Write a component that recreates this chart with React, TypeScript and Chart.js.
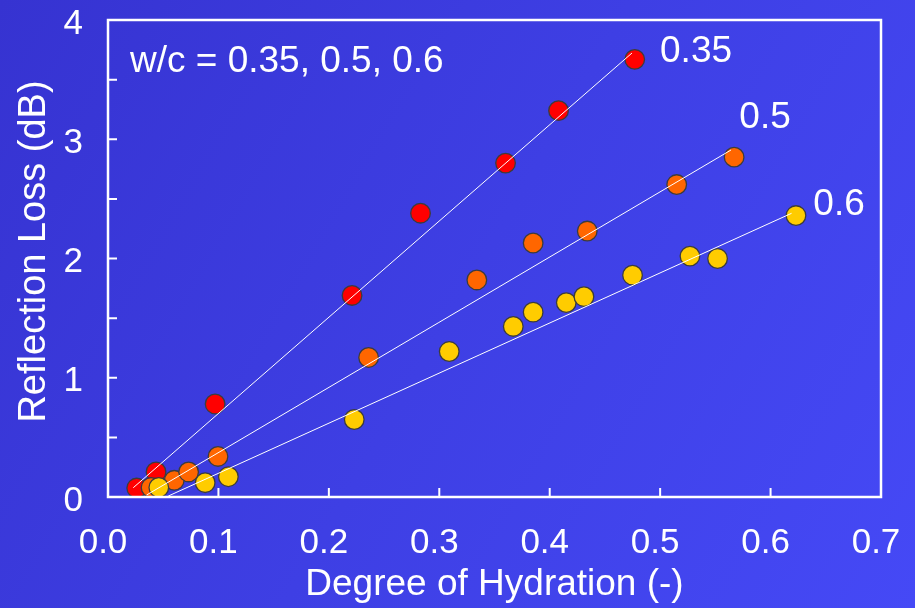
import { useEffect, useRef } from "react";
import { Chart, registerables } from "chart.js";

Chart.register(...registerables);

// ---- data ----
const hydration035 = [0.026, 0.0435, 0.097, 0.221, 0.283, 0.36, 0.408, 0.477];
const loss035 = [0.075, 0.21, 0.78, 1.69, 2.38, 2.8, 3.24, 3.67];

const hydration05 = [0.039, 0.06, 0.073, 0.0996, 0.236, 0.334, 0.385, 0.434, 0.515, 0.567];
const loss05 = [0.08, 0.14, 0.21, 0.34, 1.17, 1.82, 2.13, 2.23, 2.62, 2.85];

const hydration06 = [0.046, 0.088, 0.109, 0.223, 0.309, 0.367, 0.385, 0.415, 0.431, 0.475, 0.527, 0.552, 0.623];
const loss06 = [0.08, 0.12, 0.17, 0.65, 1.22, 1.43, 1.55, 1.63, 1.68, 1.86, 2.02, 2.0, 2.36];

// fitted lines (start, end)
const fitX035 = [0.0229, 0.4745];
const fitY035 = [0.078, 3.723];
const fitX05 = [0.035, 0.5642];
const fitY05 = [0.017, 2.91];
const fitX06 = [0.0546, 0.619];
const fitY06 = [0.008, 2.379];

const xTickValues = [0, 0.1, 0.2, 0.3, 0.4, 0.5, 0.6, 0.7];
const yTickLabels = ["0", "1", "2", "3", "4"];

const xTitle = "Degree of Hydration (-)";
const yTitle = "Reflection Loss (dB)";

const annotationTexts = ["w/c = 0.35, 0.5, 0.6", "0.35", "0.5", "0.6"];
const annotationX = [0.0199, 0.4999, 0.5717, 0.6387];
const annotationY = [3.566, 3.65, 3.092, 2.365];

const FONT = "'Liberation Sans', Arial, Helvetica, sans-serif";

const toPoints = (xs: number[], ys: number[]) => xs.map((x, i) => ({ x, y: ys[i] }));

const framePlugin = {
  id: "framePlugin",
  afterDatasetsDraw(chart: any) {
    const { ctx, chartArea } = chart;
    const xs = chart.scales.x;
    const ys = chart.scales.y;
    ctx.save();
    ctx.strokeStyle = "#ffffff";
    ctx.lineWidth = 2.5;
    ctx.strokeRect(chartArea.left, chartArea.top, chartArea.right - chartArea.left, chartArea.bottom - chartArea.top);
    ctx.lineWidth = 2;
    ctx.beginPath();
    xs.ticks.forEach((t: any) => {
      if (t.value <= xs.min + 1e-9 || t.value >= xs.max - 1e-9) return;
      const px = xs.getPixelForValue(t.value);
      ctx.moveTo(px, chartArea.bottom);
      ctx.lineTo(px, chartArea.bottom - 9);
    });
    ys.ticks.forEach((t: any) => {
      if (t.value <= ys.min + 1e-9 || t.value >= ys.max - 1e-9) return;
      const py = ys.getPixelForValue(t.value);
      ctx.moveTo(chartArea.left, py);
      ctx.lineTo(chartArea.left + 9, py);
    });
    ctx.stroke();

    ctx.fillStyle = "#ffffff";
    ctx.font = `37px ${FONT}`;
    ctx.textAlign = "left";
    ctx.textBaseline = "alphabetic";
    annotationTexts.forEach((txt, i) => {
      ctx.fillText(txt, xs.getPixelForValue(annotationX[i]), ys.getPixelForValue(annotationY[i]));
    });

    // y axis title, rotated
    ctx.font = `38px ${FONT}`;
    ctx.textAlign = "center";
    ctx.textBaseline = "middle";
    ctx.translate(35, (chartArea.top + chartArea.bottom) / 2 - 7);
    ctx.rotate(-Math.PI / 2);
    ctx.fillText(yTitle, 0, 0);
    ctx.restore();
  },
};

export default function App() {
  const canvasRef = useRef<HTMLCanvasElement | null>(null);

  useEffect(() => {
    if (!canvasRef.current) return;
    const lineDs = (xs: number[], ys: number[]) => ({
      type: "line" as const,
      data: toPoints(xs, ys),
      borderColor: "#ffffff",
      borderWidth: 1,
      pointRadius: 0,
      fill: false,
      order: 0,
    });
    const pointDs = (xs: number[], ys: number[], color: string, order: number) => ({
      type: "scatter" as const,
      data: toPoints(xs, ys),
      backgroundColor: color,
      borderColor: "#3c3c3c",
      borderWidth: 1.3,
      pointRadius: 9.8,
      showLine: false,
      order,
    });
    const chart = new Chart(canvasRef.current, {
      type: "scatter",
      data: {
        datasets: [
          lineDs(fitX035, fitY035),
          lineDs(fitX05, fitY05),
          lineDs(fitX06, fitY06),
          pointDs(hydration035, loss035, "#ff0000", 3),
          pointDs(hydration05, loss05, "#ff6600", 2),
          pointDs(hydration06, loss06, "#ffcc00", 1),
        ] as any,
      },
      options: {
        animation: false,
        responsive: true,
        maintainAspectRatio: false,
        layout: { padding: { top: 20, right: 34, left: 0, bottom: 0 } },
        plugins: { legend: { display: false }, tooltip: { enabled: false } },
        scales: {
          x: {
            type: "linear",
            position: "bottom",
            min: 0,
            max: 0.7,
            afterFit: (s: any) => {
              s.height = 111;
              s.paddingLeft = 0;
              s.paddingRight = 0;
            },
            afterBuildTicks: (s: any) => {
              s.ticks = xTickValues.map((v) => ({ value: v }));
            },
            ticks: {
              color: "#ffffff",
              font: { family: FONT, size: 35 },
              padding: 25,
              labelOffset: -5,
              autoSkip: false,
              maxRotation: 0,
              callback: (v: any) => Number(v).toFixed(1),
            },
            grid: { display: false, drawTicks: false },
            border: { display: false },
            title: {
              display: true,
              text: xTitle,
              color: "#ffffff",
              font: { family: FONT, size: 37 },
              padding: { top: 0, bottom: 1 },
            },
          },
          y: {
            type: "linear",
            position: "left",
            min: 0,
            max: 4,
            afterFit: (s: any) => {
              s.width = 108;
              s.paddingTop = 0;
              s.paddingBottom = 0;
            },
            ticks: {
              stepSize: 0.5,
              color: "#ffffff",
              font: { family: FONT, size: 35 },
              padding: 25,
              labelOffset: 4,
              autoSkip: false,
              callback: (v: any) => {
                const n = Number(v);
                return Number.isInteger(n) ? yTickLabels[n] : "";
              },
            },
            grid: { display: false, drawTicks: false },
            border: { display: false },
            title: { display: false },
          },
        },
      },
      plugins: [framePlugin],
    });
    return () => chart.destroy();
  }, []);

  return (
    <div
      style={{
        position: "fixed",
        left: 0,
        top: 0,
        width: 915,
        height: 608,
        background: "linear-gradient(120deg, #3633d1 0%, #3e3fe4 50%, #4549f6 100%)",
      }}
    >
      <canvas ref={canvasRef} />
    </div>
  );
}
